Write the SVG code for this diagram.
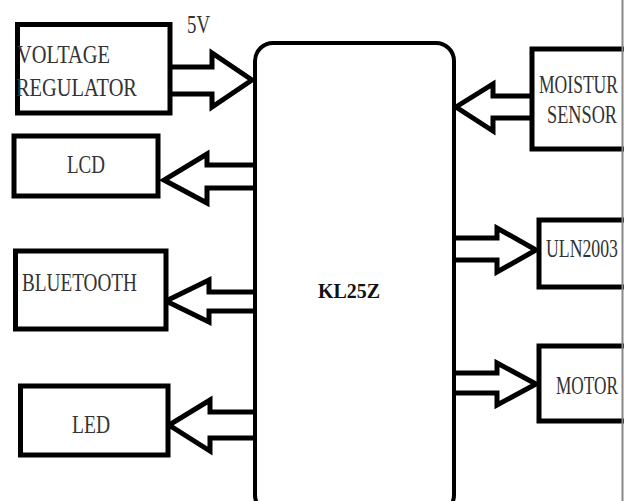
<svg xmlns="http://www.w3.org/2000/svg" width="624" height="501" viewBox="0 0 624 501">
<style>
.box{fill:#fff;stroke:#000;stroke-width:5}
.main{fill:#fff;stroke:#000;stroke-width:4}
.arr{fill:#fff;stroke:#000;stroke-width:5;stroke-linejoin:miter}
.t{font-family:"Liberation Serif","Times New Roman",serif;font-size:26px;fill:#333}
.b{font-family:"Liberation Serif","Times New Roman",serif;font-size:20px;font-weight:bold;fill:#111}
</style>
<rect width="624" height="501" fill="#fff"/>
<g id="connectors">
<path class="arr" d="M170 67 H212 V53 L252 80 L212 107 V94 H170"/>
<path class="arr" d="M255 165 H207 V154 L164 180 L207 203 V188 H255"/>
<path class="arr" d="M255 292 H209 V280 L166 301 L209 322 V311 H255"/>
<path class="arr" d="M255 412 H210 V400 L169 425 L210 451 V438 H255"/>
<path class="arr" d="M532 96 H493 V84 L456 107 L493 131 V118 H532"/>
<path class="arr" d="M454 238 H497 V228 L536 250 L497 272 V260 H454"/>
<path class="arr" d="M454 373 H497 V363 L536 384 L497 405 V393 H454"/>
</g>
<g id="kl25z">
<rect class="main" x="255" y="43" width="199" height="470" rx="18"/>
<text class="b" x="318" y="298" textLength="62" lengthAdjust="spacingAndGlyphs">KL25Z</text>
</g>
<g id="voltage-regulator">
<rect class="box" x="17.5" y="24.5" width="152.5" height="88.5"/>
<text class="t" x="17" y="63" textLength="93" lengthAdjust="spacingAndGlyphs">VOLTAGE</text>
<text class="t" x="16" y="96" textLength="121" lengthAdjust="spacingAndGlyphs">REGULATOR</text>
<text class="t" x="187" y="33" font-size="20" textLength="23" lengthAdjust="spacingAndGlyphs">5V</text>
</g>
<g id="lcd">
<rect class="box" x="14" y="136" width="144" height="60"/>
<text class="t" x="67" y="173" textLength="38" lengthAdjust="spacingAndGlyphs">LCD</text>
</g>
<g id="bluetooth">
<rect class="box" x="15.5" y="251" width="150.5" height="78"/>
<text class="t" x="22" y="291" textLength="115" lengthAdjust="spacingAndGlyphs">BLUETOOTH</text>
</g>
<g id="led">
<rect class="box" x="20.5" y="386" width="147.5" height="69"/>
<text class="t" x="72" y="433" textLength="38" lengthAdjust="spacingAndGlyphs">LED</text>
</g>
<g id="moisture-sensor">
<rect class="box" x="532" y="49" width="120" height="100"/>
<text class="t" x="539" y="93" textLength="79" lengthAdjust="spacingAndGlyphs">MOISTUR</text>
<text class="t" x="547" y="123" textLength="70" lengthAdjust="spacingAndGlyphs">SENSOR</text>
</g>
<g id="uln2003">
<rect class="box" x="539" y="220" width="120" height="67"/>
<text class="t" x="546" y="257" textLength="72" lengthAdjust="spacingAndGlyphs">ULN2003</text>
</g>
<g id="motor">
<rect class="box" x="539" y="346" width="120" height="75"/>
<text class="t" x="556" y="394" textLength="62" lengthAdjust="spacingAndGlyphs">MOTOR</text>
</g>
<line x1="622.5" y1="0" x2="622.5" y2="501" stroke="#888" stroke-width="2"/>
</svg>
